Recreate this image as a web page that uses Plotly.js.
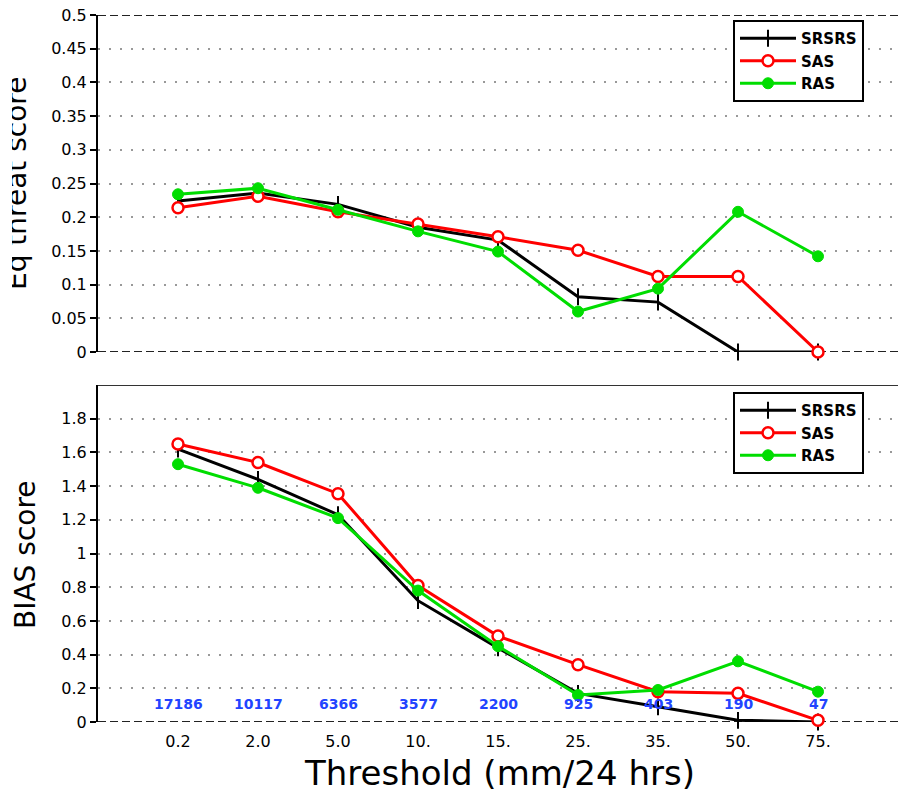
<!DOCTYPE html>
<html>
<head>
<meta charset="utf-8">
<script src="https://cdn.plot.ly/plotly-3.0.1.min.js"></script>
<style>
  html, body { margin: 0; padding: 0; background: #fff; overflow: hidden; }
  #chart { width: 899px; height: 797px; }
</style>
</head>
<body>
<div id="chart"></div>
<script>
// ---- data ----
const thresholds = ['0.2', '2.0', '5.0', '10.', '15.', '25.', '35.', '50.', '75.'];
const seriesNames = ['SRSRS', 'SAS', 'RAS'];
const etsSR  = [0.224, 0.236, 0.219, 0.185, 0.166, 0.082, 0.074, 0.0, 0.0];
const etsSAS = [0.214, 0.231, 0.208, 0.190, 0.171, 0.151, 0.112, 0.112, 0.0];
const etsRAS = [0.234, 0.243, 0.211, 0.179, 0.149, 0.060, 0.094, 0.208, 0.142];
const biasSR  = [1.62, 1.44, 1.23, 0.72, 0.44, 0.17, 0.09, 0.01, 0.0];
const biasSAS = [1.65, 1.54, 1.355, 0.81, 0.51, 0.34, 0.18, 0.17, 0.01];
const biasRAS = [1.53, 1.39, 1.21, 0.78, 0.45, 0.16, 0.19, 0.36, 0.18];
const counts = ['17186', '10117', '6366', '3577', '2200', '925', '403', '190', '47'];
const countLevel = 0.105;
const etsTicks = [0, 0.05, 0.1, 0.15, 0.2, 0.25, 0.3, 0.35, 0.4, 0.45, 0.5];
const biasTicks = [0, 0.2, 0.4, 0.6, 0.8, 1, 1.2, 1.4, 1.6, 1.8];

// ---- helpers ----
const xs = thresholds.map((_, i) => i + 1);
const FONT = 'DejaVu Sans, Liberation Sans, sans-serif';
const px = (p) => (p - 98) / 800;          // pixel x -> paper x
const py = (p) => (722 - p) / 707;         // pixel y -> paper y

const styles = [
  { line: { color: '#000000', width: 3 }, marker: { symbol: 'line-ns-open', size: 12, color: '#000000', line: { color: '#000000', width: 2 } } },
  { line: { color: '#ff0000', width: 3 }, marker: { symbol: 'circle', size: 11, color: '#ffffff', line: { color: '#ff0000', width: 2.5 } } },
  { line: { color: '#00dd00', width: 3 }, marker: { symbol: 'circle', size: 11, color: '#00dd00', line: { color: '#00dd00', width: 1 } } }
];

function mk(yv, idx, xa, ya, legend) {
  return {
    x: xs, y: yv, type: 'scatter', mode: 'lines+markers',
    name: seriesNames[idx], xaxis: xa, yaxis: ya, legend: legend,
    line: styles[idx].line, marker: styles[idx].marker,
    cliponaxis: false, hoverinfo: 'x+y'
  };
}

const traces = [
  mk(etsSR, 0, 'x', 'y', 'legend'),
  mk(etsSAS, 1, 'x', 'y', 'legend'),
  mk(etsRAS, 2, 'x', 'y', 'legend'),
  mk(biasSR, 0, 'x2', 'y2', 'legend2'),
  mk(biasSAS, 1, 'x2', 'y2', 'legend2'),
  mk(biasRAS, 2, 'x2', 'y2', 'legend2')
];

const gridDash = '2px,9px';
const yCommon = {
  showline: true, linecolor: '#000', linewidth: 2,
  ticks: 'outside', ticklen: 6, tickwidth: 2, tickcolor: '#000',
  showgrid: true, gridcolor: '#999999', gridwidth: 2, griddash: gridDash,
  zeroline: false, tickfont: { family: FONT, size: 16, color: '#000' },
  fixedrange: true
};

const annotations = [];
counts.forEach((c, i) => {
  annotations.push({
    x: xs[i], y: countLevel, xref: 'x2', yref: 'y2', text: '<b>' + c + '</b>',
    xanchor: 'center', yanchor: 'middle',
    showarrow: false, font: { family: FONT, size: 14, color: '#2244ff' }
  });
});
annotations.push({
  x: px(500), y: py(773), xref: 'paper', yref: 'paper',
  xanchor: 'center', yanchor: 'middle',
  text: 'Threshold (mm/24 hrs)', showarrow: false,
  font: { family: FONT, size: 34, color: '#000' }
});
annotations.push({
  x: px(25), y: py(555), xref: 'paper', yref: 'paper',
  xanchor: 'center', yanchor: 'middle',
  text: 'BIAS score', textangle: -90, showarrow: false,
  font: { family: FONT, size: 28, color: '#000' }
});
annotations.push({
  x: px(16), y: py(183), xref: 'paper', yref: 'paper',
  xanchor: 'center', yanchor: 'middle',
  text: 'Eq threat score', textangle: -90, showarrow: false,
  font: { family: FONT, size: 28, color: '#000' }
});
// white mask reproducing the clipped left edge of the upper axis title
annotations.push({
  x: px(0), y: py(183), xref: 'paper', yref: 'paper',
  xanchor: 'left', yanchor: 'middle',
  text: ' ', showarrow: false, width: 12, height: 300, bgcolor: '#ffffff',
  borderpad: 0, borderwidth: 0, font: { size: 4 }
});

const dashLine = { color: '#222', width: 2, dash: '8px,4px' };
const shapes = [
  { type: 'line', xref: 'x domain', yref: 'y', x0: 0, x1: 1, y0: 0, y1: 0, line: dashLine, layer: 'below' },
  { type: 'line', xref: 'x domain', yref: 'y', x0: 0, x1: 1, y0: 0.5, y1: 0.5, line: dashLine, layer: 'below' },
  { type: 'line', xref: 'x2 domain', yref: 'y2', x0: 0, x1: 1, y0: 0, y1: 0, line: dashLine, layer: 'below' },
  { type: 'line', xref: 'x2 domain', yref: 'y2', x0: 0, x1: 1, y0: 2, y1: 2, line: { color: '#333', width: 2 }, layer: 'below' }
];

const legendCommon = {
  xanchor: 'left', yanchor: 'top', bgcolor: '#ffffff',
  bordercolor: '#000', borderwidth: 2,
  font: { family: FONT, size: 15, color: '#000', weight: 'bold' },
  itemclick: false, itemdoubleclick: false, tracegroupgap: 0,
  itemwidth: 56
};

const layout = {
  width: 899, height: 797,
  margin: { l: 98, r: 1, t: 15, b: 75 },
  paper_bgcolor: '#fff', plot_bgcolor: '#fff',
  showlegend: true,
  xaxis: { domain: [0, 1], anchor: 'y', range: [0, 10], showticklabels: false, ticks: '', showgrid: false, zeroline: false, showline: false, fixedrange: true },
  xaxis2: { domain: [0, 1], anchor: 'y2', range: [0, 10], tickvals: xs, ticktext: thresholds, ticks: '', showgrid: false, zeroline: false, showline: false,
            tickfont: { family: FONT, size: 16, color: '#000' }, ticklabelstandoff: 8, fixedrange: true },
  yaxis: Object.assign({}, yCommon, { domain: [1 - 337 / 707, 1], anchor: 'x', range: [0, 0.5], tickvals: etsTicks }),
  yaxis2: Object.assign({}, yCommon, { domain: [0, 337 / 707], anchor: 'x2', range: [0, 2.0], tickvals: biasTicks }),
  legend: Object.assign({}, legendCommon, { x: px(733), y: py(20) }),
  legend2: Object.assign({}, legendCommon, { x: px(733), y: py(392) }),
  annotations: annotations,
  shapes: shapes
};

Plotly.newPlot('chart', traces, layout, { displayModeBar: false, staticPlot: true });
</script>
</body>
</html>
